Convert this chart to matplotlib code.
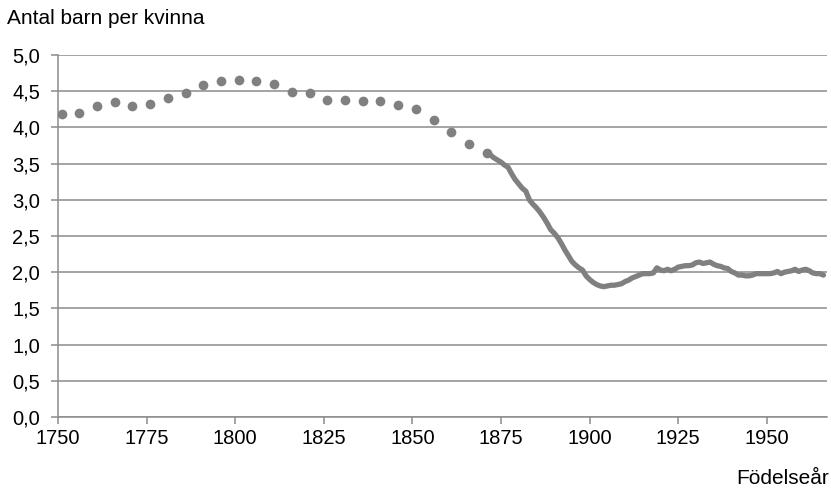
import matplotlib
matplotlib.use("Agg")
import matplotlib.pyplot as plt
from matplotlib.ticker import FuncFormatter, MultipleLocator

# 5-year estimates, 1750-1870 (dots)
early_years = list(range(1751, 1872, 5))
early_values = [4.19, 4.20, 4.30, 4.35, 4.30, 4.32, 4.40, 4.47, 4.59, 4.64,
                4.66, 4.64, 4.60, 4.49, 4.47, 4.38, 4.38, 4.36, 4.37, 4.31,
                4.25, 4.10, 3.94, 3.77, 3.64]

# annual cohort values, 1871-1966 (line)
late_years = list(range(1871, 1967))
late_values = [3.66, 3.62, 3.58, 3.55, 3.52, 3.48, 3.45, 3.36, 3.28, 3.22,
               3.16, 3.12, 3.00, 2.94, 2.89, 2.83, 2.76, 2.68, 2.59, 2.54,
               2.48, 2.40, 2.31, 2.23, 2.15, 2.10, 2.06, 2.03, 1.95, 1.90,
               1.86, 1.83, 1.81, 1.80, 1.81, 1.82, 1.82, 1.83, 1.84, 1.87,
               1.89, 1.92, 1.94, 1.96, 1.98, 1.98, 1.98, 1.99, 2.06, 2.03,
               2.02, 2.04, 2.02, 2.04, 2.07, 2.08, 2.09, 2.09, 2.10, 2.13,
               2.14, 2.12, 2.13, 2.14, 2.11, 2.09, 2.08, 2.06, 2.05, 2.01,
               1.99, 1.96, 1.96, 1.95, 1.95, 1.96, 1.98, 1.98, 1.98, 1.98,
               1.98, 1.99, 2.01, 1.98, 2.00, 2.01, 2.02, 2.04, 2.01, 2.03,
               2.04, 2.02, 1.99, 1.98, 1.98, 1.96]

GRAY = '#808080'
GRID = '#8c8c8c'

plt.rcParams['font.family'] = ['Liberation Sans', 'DejaVu Sans']

fig = plt.figure(figsize=(8.31, 4.93), dpi=100)
ax = fig.add_axes([58 / 831, 76 / 493, (827 - 58) / 831, (417 - 55) / 493])

ax.plot(early_years, early_values, 'o', color=GRAY, markersize=7,
        markeredgewidth=0, zorder=3)
ax.plot(late_years, late_values, '-', color=GRAY, linewidth=3.8,
        solid_capstyle='round', solid_joinstyle='round', zorder=3)

ax.set_xlim(1750, 1967)
ax.set_ylim(0, 5)
ax.xaxis.set_major_locator(MultipleLocator(25))
ax.yaxis.set_major_locator(MultipleLocator(0.5))
ax.yaxis.set_major_formatter(FuncFormatter(lambda v, p: f"{v:.1f}".replace('.', ',')))

ax.grid(axis='y', color=GRID, linewidth=1.1)
ax.set_axisbelow(True)
for s in ['top', 'right']:
    ax.spines[s].set_visible(False)
for s in ['left', 'bottom']:
    ax.spines[s].set_color(GRID)
    ax.spines[s].set_linewidth(1.1)

ax.tick_params(axis='both', colors=GRID, labelcolor='black', labelsize=14.5,
               length=5, width=1.1)
ax.tick_params(axis='x', pad=4)
ax.tick_params(axis='y', pad=8)

fig.text(7 / 831, 1 - 19 / 493, 'Antal barn per kvinna', fontsize=15,
         ha='left', va='center')
fig.text(829 / 831, 1 - 478 / 493, 'Födelseår', fontsize=15,
         ha='right', va='center')

fig.savefig('out.png', dpi=100)
